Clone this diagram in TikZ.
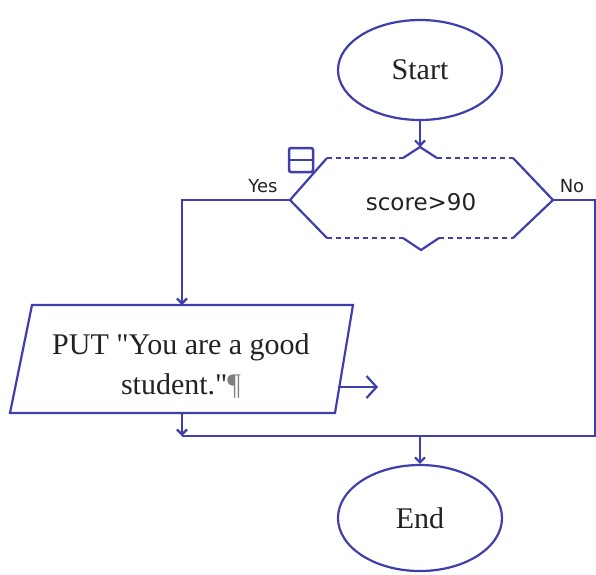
\documentclass[tikz,border=0pt]{standalone}
\usepackage{fontspec}
\setmainfont{Liberation Serif}[Ligatures=TeXOff]
\newfontfamily\dsans{DejaVu Sans}
\usetikzlibrary{arrows.meta,shapes.geometric}
\definecolor{lc}{RGB}{62,62,172}
\definecolor{tc}{RGB}{34,34,34}
\begin{document}
\begin{tikzpicture}[x=1pt,y=-1pt,
  ln/.style={draw=lc,line width=2.2pt},
  dln/.style={draw=lc,line width=2pt,dash pattern=on 5pt off 4pt},
  tip/.style={-{Straight Barb[length=5pt,width=10pt]}},
  term/.style={ellipse,draw=lc,line width=2.2pt,minimum width=164pt,minimum height=100pt,
    font=\fontsize{30}{36}\selectfont,text=tc,inner sep=0pt},
  lbl/.style={font=\dsans\fontsize{18}{20}\selectfont,text=tc},
]
\useasboundingbox (0,0) rectangle (596,574);
% terminals
\node[term] (start) at (420,70) {Start};
\node[term,minimum height=106pt] (end) at (420,518) {End};
% decision
\coordinate (dL) at (290,200);
\coordinate (dR) at (553,200);
\coordinate (dTL) at (327,158);
\coordinate (dTR) at (513,158);
\coordinate (dBL) at (327,238);
\coordinate (dBR) at (513,238);
\coordinate (nt1) at (403,158);
\coordinate (ntp) at (420,147);
\coordinate (nt2) at (437,158);
\coordinate (nb1) at (403,238);
\coordinate (nbp) at (421,250);
\coordinate (nb2) at (439,238);
\draw[ln] (dTL) -- (dL) -- (dBL);
\draw[ln] (dTR) -- (dR) -- (dBR);
\draw[dln] (dTL) -- (nt1);
\draw[dln] (nt2) -- (dTR);
\draw[dln] (dBL) -- (nb1);
\draw[dln] (nb2) -- (dBR);
\draw[ln] (nt1) -- (ntp) -- (nt2);
\draw[ln] (nb1) -- (nbp) -- (nb2);
\node[font=\dsans\fontsize{23}{28}\selectfont,text=tc] (dec) at (421,202) {score>90};
% icon
\node[draw=lc,line width=2.5pt,rounded corners=2pt,minimum width=24pt,minimum height=24pt,inner sep=0pt] (icon) at (301,160) {};
\draw[ln] (icon.west) -- (icon.east);
\node[lbl] (yes) at (263,186) {Yes};
\node[lbl] (no) at (572,186) {No};
% output parallelogram
\coordinate (p1) at (10,413);
\coordinate (p2) at (32,305);
\coordinate (p3) at (353,305);
\coordinate (p4) at (335,413);
\draw[ln] (p1) -- (p2) -- (p3) -- (p4) -- cycle;
\coordinate (pT) at (182,305);
\coordinate (pB) at (182,413);
\coordinate (pR) at (338,387);
\coordinate (pRa) at (378,387);
\node[align=center,text=tc,font=\fontsize{30}{40}\selectfont] (put) at (181,366)
  {PUT "You are a good\\ student."{\color{gray}¶}};
% connectors
\coordinate (rc) at (595,436);
\coordinate (jl) at (182,436);
\coordinate (jm) at (420,436);
\draw[ln,tip] (start.south) -- (ntp);
\draw[ln,tip] (dL) -| (pT);
\draw[ln] (dR) -| (rc) -- (jl);
\draw[ln,tip] (pB) -- (jl);
\draw[ln,tip] (jm) -- (end.north);
\draw[ln,-{Straight Barb[length=10pt,width=22pt]}] (pR) -- (pRa);
\end{tikzpicture}
\end{document}
